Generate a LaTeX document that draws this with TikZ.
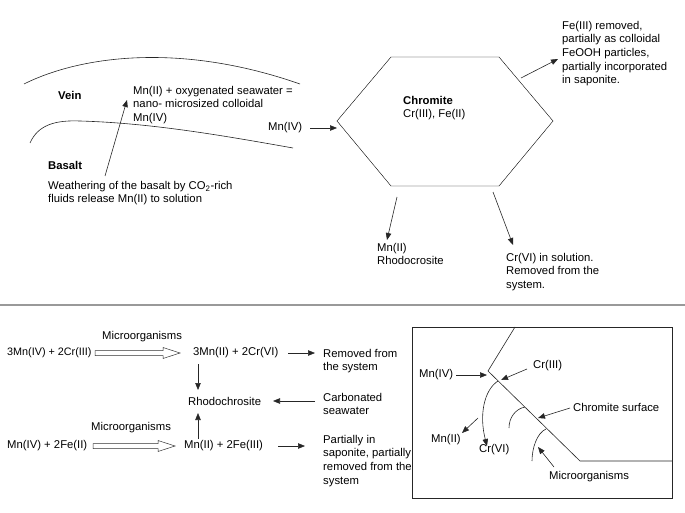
\documentclass[tikz,border=0pt]{standalone}
\usepackage{fontspec}
\setmainfont{Liberation Sans}
\usetikzlibrary{arrows.meta}
\begin{document}
\begin{tikzpicture}[x=1pt,y=-1pt,
  txt/.style={inner sep=0pt, anchor=west, align=left, font=\fontsize{11.3}{13.6}\selectfont},
  mtxt/.style={inner sep=0pt, anchor=north west, align=left, font=\fontsize{11.3}{13.6}\selectfont},
  ln/.style={line width=0.6pt, draw=black!85},
  arr/.style={ln, -{Triangle[length=7pt,width=5.5pt]}},
  hollow/.style={line width=0.5pt, draw=black!80, fill=white}]
\useasboundingbox (0,0) rectangle (685,513);
% ---------- top part ----------
\draw[ln] (24,84) .. controls (80,56) and (180,42) .. (300,84);
\draw[ln] (30,143) .. controls (38,125) and (55,120) .. (80,121) .. controls (150,123) and (220,135) .. (293,148);
\node[txt, font=\bfseries\fontsize{11.3}{13.6}\selectfont] (vein) at (58,95) {Vein};
\node[txt, font=\bfseries\fontsize{11.3}{13.6}\selectfont] (basalt) at (48,165) {Basalt};
\node[mtxt] (mnox) at (133,86) {Mn(II) + oxygenated seawater =\\nano- microsized colloidal\\Mn(IV)};
\node[mtxt] (weath) at (48,181) {Weathering of the basalt by CO\textsubscript{2}-rich\\fluids release Mn(II) to solution};
\coordinate (w1) at (105,176);
\coordinate (w2) at (127,100);
\draw[arr] (w1) -- (w2);
\node[txt] (mniv) at (268,128) {Mn(IV)};
\draw (337,121) coordinate (hL) -- (391,57) coordinate (hTL) -- (499,57) coordinate (hTR) -- (553,121) coordinate (hR) -- (499,186) coordinate (hBR) -- (391,186) coordinate (hBL) -- cycle;
\coordinate (h1) at (310,128);
\coordinate (h2) at (337,128);
\draw[arr] (h1) -- (h2);
\node[mtxt] (chrom) at (403,96) {\textbf{Chromite}\\Cr(III), Fe(II)};
\node[mtxt] (fe3) at (562,21) {Fe(III) removed,\\partially as colloidal\\FeOOH particles,\\partially incorporated\\in saponite.};
\coordinate (f1) at (521,78);
\coordinate (f2) at (558,59);
\draw[arr] (f1) -- (f2);
\node[mtxt] (rhodo1) at (377,243) {Mn(II)\\Rhodocrosite};
\coordinate (r1) at (397,197);
\coordinate (r2) at (387,240);
\draw[arr] (r1) -- (r2);
\node[mtxt] (cr6) at (506,253) {Cr(VI) in solution.\\Removed from the\\system.};
\coordinate (c1) at (493,192);
\coordinate (c2) at (513,245);
\draw[arr] (c1) -- (c2);
% ---------- separator ----------
\coordinate (s1) at (0,305);
\coordinate (s2) at (685,305);
\draw[line width=2pt, black!40] (s1) -- (s2);
% ---------- bottom left ----------
\node[txt, font=\fontsize{10.8}{13}\selectfont] (eqa) at (7,353) {3Mn(IV) + 2Cr(III)};
\node[txt] (mica) at (102,337) {Microorganisms};
\fill[hollow] (95,350.5) -- (163,350.5) -- (163,347.5) -- (180,353) -- (163,358.5) -- (163,355.5) -- (95,355.5) -- cycle;
\node[txt] (proda) at (193,353) {3Mn(II) + 2Cr(VI)};
\node[mtxt] (remov) at (323,349) {Removed from\\the system};
\coordinate (a1) at (288,353);
\coordinate (a2) at (315,353);
\draw[arr] (a1) -- (a2);
\node[txt] (rhodo) at (188,401) {Rhodochrosite};
\node[mtxt] (carb) at (323,393) {Carbonated\\seawater};
\coordinate (d1) at (198,364);
\coordinate (d2) at (198,390);
\draw[arr] (d1) -- (d2);
\coordinate (k1) at (315,401);
\coordinate (k2) at (273,401);
\draw[arr] (k1) -- (k2);
\node[txt] (micb) at (91,428) {Microorganisms};
\node[txt] (eqb) at (7,446) {Mn(IV) + 2Fe(II)};
\fill[hollow] (93,443.5) -- (158,443.5) -- (158,440.5) -- (175,446) -- (158,451.5) -- (158,448.5) -- (93,448.5) -- cycle;
\node[txt] (prodb) at (184,446) {Mn(II) + 2Fe(III)};
\coordinate (u1) at (198,439);
\coordinate (u2) at (198,413);
\draw[arr] (u1) -- (u2);
\coordinate (p1) at (278,446);
\coordinate (p2) at (305,446);
\draw[arr] (p1) -- (p2);
\node[mtxt] (part) at (323,435) {Partially in\\saponite, partially\\removed from the\\system};
% ---------- bottom right box ----------
\draw[ln] (412,327) rectangle (672,498);
\draw[ln] (515,327) coordinate (sa) -- (488,371) coordinate (sb) -- (580,461) coordinate (sc) -- (672,461) coordinate (sd);
\node[txt] (bmn4) at (419,375) {Mn(IV)};
\coordinate (b1) at (456,375);
\coordinate (b2) at (487,375);
\draw[arr] (b1) -- (b2);
\node[txt] (bcr3) at (533,366) {Cr(III)};
\coordinate (b3) at (527,369);
\coordinate (b4) at (501,380);
\draw[arr] (b3) -- (b4);
\coordinate (b5) at (498,381);
\coordinate (b6) at (487,446);
\draw[arr] (b5) .. controls (484,390) and (479,415) .. (b6);
\coordinate (b7) at (478,418);
\coordinate (b8) at (462,433);
\draw[arr] (b7) -- (b8);
\node[txt] (bmn2) at (431,440) {Mn(II)};
\node[txt] (bcr6) at (479,450) {Cr(VI)};
\draw[ln] (525,407) .. controls (515,409) and (509,418) .. (509,428);
\draw[ln] (546,429) .. controls (537,433) and (532,448) .. (532,461);
\node[txt] (surf) at (573,407) {Chromite surface};
\coordinate (b9) at (570,408);
\coordinate (b10) at (538,418);
\draw[arr] (b9) -- (b10);
\node[txt] (bmic) at (549,477) {Microorganisms};
\coordinate (b11) at (554,467);
\coordinate (b12) at (538,447);
\draw[arr] (b11) -- (b12);
\end{tikzpicture}
\end{document}
